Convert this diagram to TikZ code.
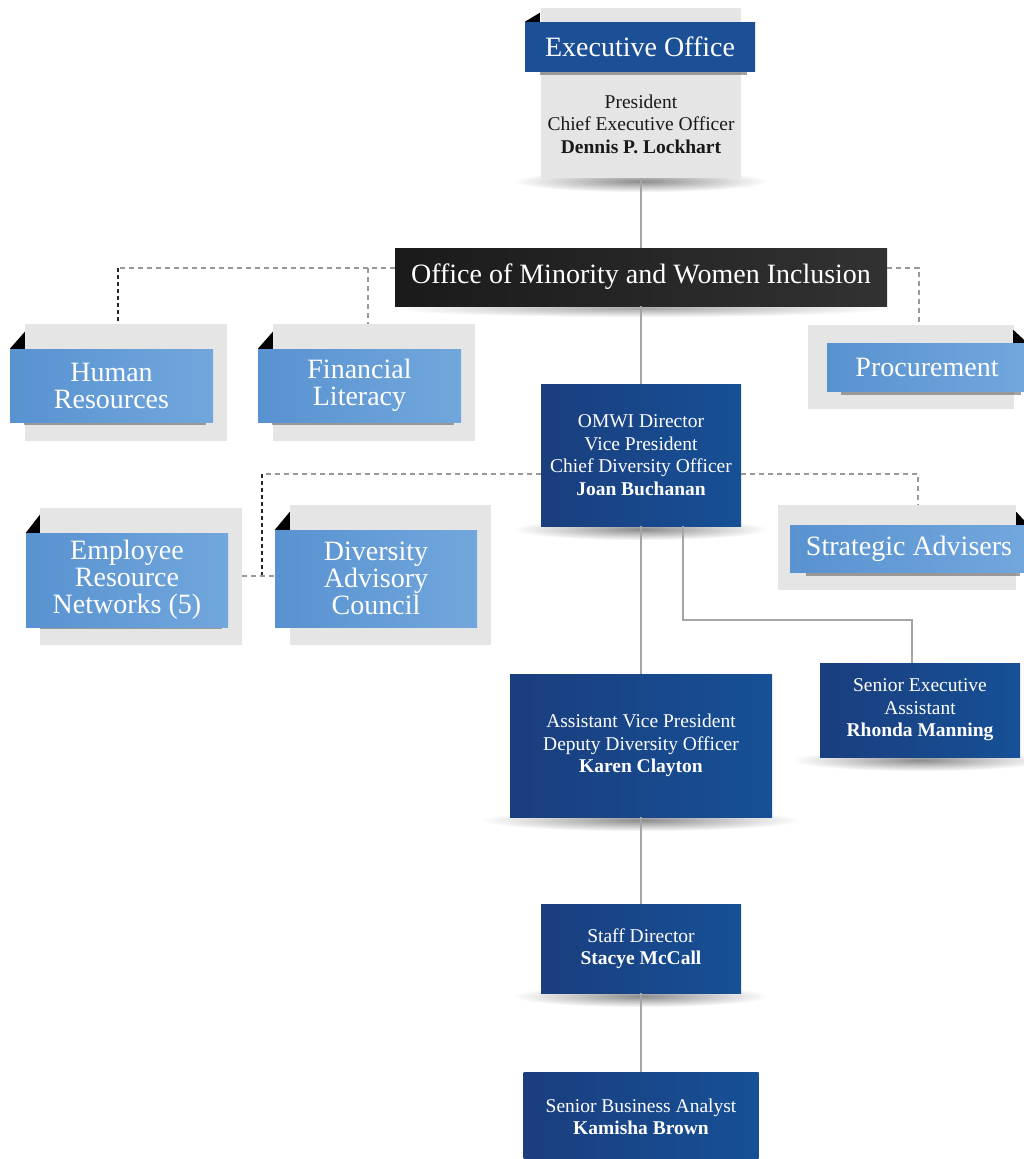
\documentclass[tikz,border=0pt]{standalone}
\usepackage{fontspec}
\setmainfont{Liberation Serif}
\usetikzlibrary{shadows, backgrounds}

\definecolor{backgrey}{RGB}{229,229,229}
\definecolor{bandleft}{RGB}{88,146,208}
\definecolor{bandright}{RGB}{114,167,221}
\definecolor{navyleft}{RGB}{26,62,126}
\definecolor{navyright}{RGB}{22,80,150}
\definecolor{execblue}{RGB}{27,79,150}
\definecolor{omwileft}{RGB}{26,26,26}
\definecolor{omwiright}{RGB}{50,50,50}
\definecolor{linegrey}{RGB}{165,165,165}
\definecolor{inkblack}{RGB}{25,25,25}

\newcommand{\orgbandfont}{\fontsize{28}{27}\selectfont}
\newcommand{\orgboxfont}{\fontsize{19.5}{22.5}\selectfont}

\begin{document}
\begin{tikzpicture}[x=1pt, y=-1pt,
        back/.style={fill=backgrey, inner sep=0},
        band/.style={
          left color=bandleft,
          right color=bandright,
          text=white,
          font=\orgbandfont,
          align=center,
          inner sep=0,
          drop shadow={shadow xshift=4pt, shadow yshift=-7pt, shadow scale=0.9, fill=black!60, opacity=0.6}
        },
        fold/.style={fill=black},
        navybox/.style={
          left color=navyleft,
          right color=navyright,
          text=white,
          font=\orgboxfont,
          align=center,
          inner sep=0
        },
        link/.style={draw=linegrey, line width=2pt},
        dashlink/.style={draw=black!40, line width=1.1pt, dash pattern=on 5pt off 4pt},
        darkdash/.style={draw=black!85, line width=1.4pt, dash pattern=on 4pt off 3pt}
    ]
    \useasboundingbox (0,0) rectangle (1024,1159);

    % Executive office
    \node[back, minimum width=200, minimum height=170] (execBack) at (641,93) {};
    \node[band, left color=execblue, right color=execblue, minimum width=230, minimum height=49] (exec) at (640,46.5) {Executive Office};
    \fill[fold] (exec.north west) -- ++(15,0) -- ++(0,-9) -- cycle;
    \node[font=\orgboxfont, text=inkblack, align=center] (execInfo) at (641,124)
      {President\\Chief Executive Officer\\\textbf{Dennis P. Lockhart}};

    \node[navybox, left color=omwileft, right color=omwiright, font=\orgbandfont,
          minimum width=492, minimum height=58] (omwi) at (641,277) {Office of Minority and Women Inclusion};

    % Cards of the first row
    \node[back, minimum width=202, minimum height=117] (hrBack) at (126,382.5) {};
    \node[band, minimum width=203, minimum height=73] (hr) at (111.5,385.5) {Human\\Resources};
    \fill[fold] (hr.north west) -- ++(15,0) -- ++(0,-17) -- cycle;

    \node[back, minimum width=202, minimum height=117] (finBack) at (374,382.5) {};
    \node[band, minimum width=203, minimum height=73] (fin) at (359.5,385.5) {Financial\\Literacy};
    \fill[fold] (fin.north west) -- ++(15,0) -- ++(0,-17) -- cycle;

    \node[back, minimum width=206, minimum height=84] (procBack) at (911,367) {};
    \node[band, minimum width=200, minimum height=48] (proc) at (927,367) {Procurement};
    \fill[fold] (proc.north east) -- ++(-14,0) -- ++(0,-13) -- cycle;

    \node[navybox, minimum width=200, minimum height=142] (director) at (641,455)
      {OMWI Director\\Vice President\\Chief Diversity Officer\\\textbf{Joan Buchanan}};

    % Cards of the second row
    \node[back, minimum width=202, minimum height=137] (ernBack) at (141,576.5) {};
    \node[band, minimum width=202, minimum height=94] (ern) at (127,580) {Employee\\Resource\\Networks (5)};
    \fill[fold] (ern.north west) -- ++(14,0) -- ++(0,-18) -- cycle;

    \node[back, minimum width=201, minimum height=140] (dacBack) at (390.5,575) {};
    \node[band, minimum width=202, minimum height=97] (dac) at (376,578.5) {Diversity\\Advisory\\Council};
    \fill[fold] (dac.north west) -- ++(15,0) -- ++(0,-18) -- cycle;

    \node[back, minimum width=238, minimum height=85] (saBack) at (897,547.5) {};
    \node[band, minimum width=238, minimum height=47] (sa) at (909,548.5) {Strategic Advisers};
    \fill[fold] (sa.north east) -- ++(-12,0) -- ++(0,-13) -- cycle;

    % Staff
    \node[navybox, minimum width=200, minimum height=94] (assistant) at (920,710)
      {Senior Executive\\Assistant\\\textbf{Rhonda Manning}};
    \node[navybox, minimum width=262, minimum height=143] (avp) at (641,745.5)
      {Assistant Vice President\\Deputy Diversity Officer\\\textbf{Karen Clayton}};
    \node[navybox, minimum width=200, minimum height=89] (staff) at (641,948.5)
      {Staff Director\\\textbf{Stacye McCall}};
    \node[navybox, minimum width=235, minimum height=90] (analyst) at (641,1117)
      {Senior Business Analyst\\\textbf{Kamisha Brown}};

    % Shadows
    \begin{scope}[on background layer]
      \shade[inner color=black!45, outer color=white] ([yshift=-3pt]execBack.south) ellipse [x radius=128, y radius=11];
      \shade[inner color=black!35, outer color=white] ([yshift=-2pt]omwi.south) ellipse [x radius=250, y radius=9];
      \foreach \b/\r in {director/128, assistant/128, avp/160, staff/128}
        \shade[inner color=black!45, outer color=white] ([yshift=-3pt]\b.south) ellipse [x radius=\r, y radius=11];
    \end{scope}

    % Solid connectors
    \draw[link] (execBack.south) -- (omwi.north);
    \draw[link] (omwi.south) -- (director.north);
    \draw[link] (director.south) -- (avp.north);
    \draw[link] (avp.south) -- (staff.north);
    \draw[link] (staff.south) -- (analyst.north);
    \draw[link] ([xshift=42pt]director.south) -- ++(0,94) -| ([xshift=-8pt]assistant.north);

    % Dashed connectors
    \coordinate (omwiL) at ([yshift=9pt]omwi.west);
    \coordinate (hrTop) at ([xshift=-8pt]hrBack.north);
    \draw[dashlink] (omwiL) -- (omwiL -| hrTop);
    \draw[darkdash] (omwiL -| hrTop) -- (hrTop);
    \draw[dashlink] (omwiL) -| ([xshift=-6pt]finBack.north);
    \draw[dashlink] ([yshift=9pt]omwi.east) -| ([xshift=8pt]procBack.north);

    \coordinate (dirL) at ([yshift=-19pt]director.west);
    \coordinate (ernLink) at (262,576);
    \draw[dashlink] (dirL) -- (dirL -| ernLink);
    \draw[darkdash] (dirL -| ernLink) -- (ernLink);
    \draw[dashlink] (ernBack.east |- ernLink) -- (dac.west |- ernLink);
    \draw[dashlink] ([yshift=-19pt]director.east) -| ([xshift=21pt]saBack.north);

\end{tikzpicture}
\end{document}
